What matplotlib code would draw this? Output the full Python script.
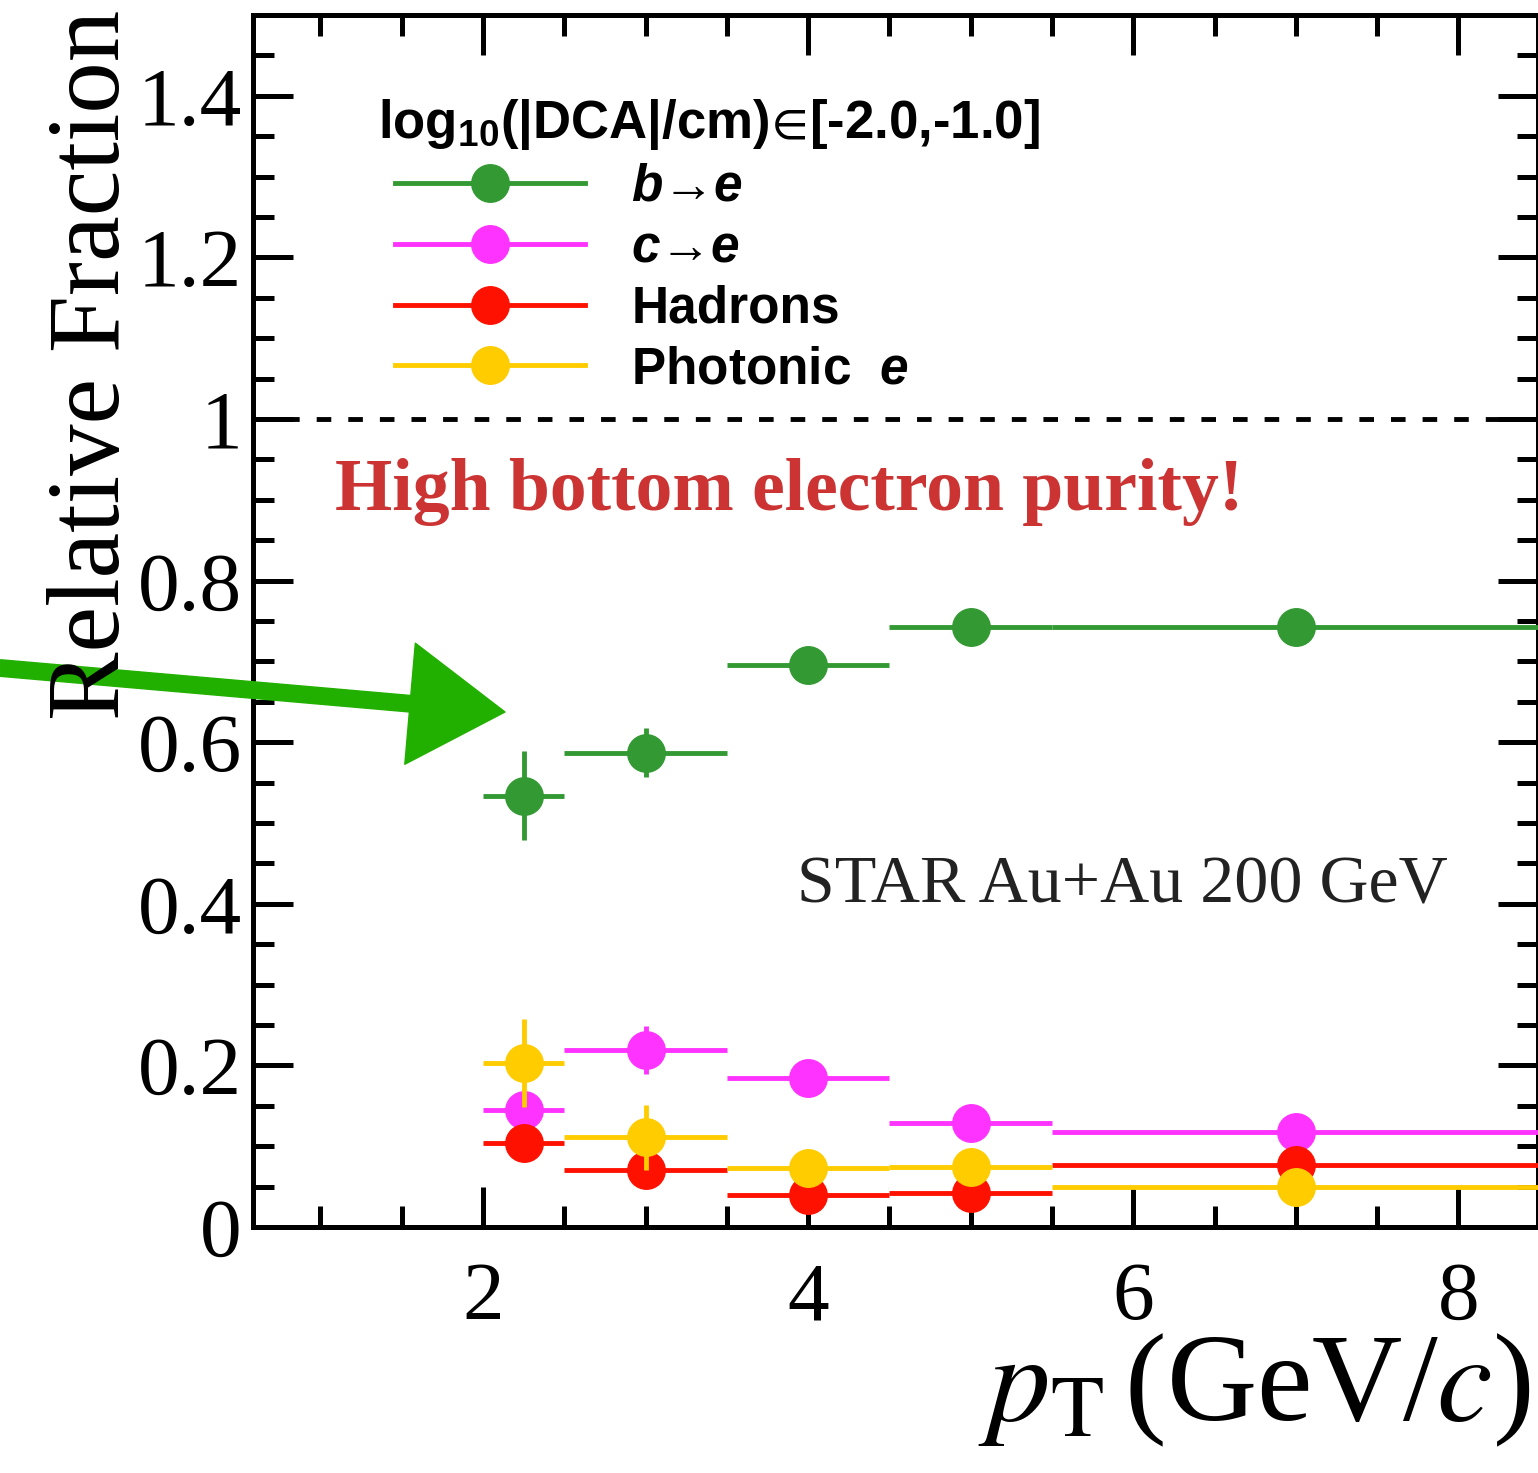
import matplotlib
matplotlib.use('Agg')
import matplotlib.pyplot as plt
from matplotlib.lines import Line2D
from matplotlib.font_manager import FontProperties
from matplotlib.ticker import MultipleLocator, FormatStrFormatter

# pT bins
pt_centers = [2.25, 3.0, 4.0, 5.0, 7.0]
pt_halfwidth = [0.25, 0.5, 0.5, 0.5, 1.5]

# relative fractions
b_to_e = [0.534, 0.587, 0.695, 0.743, 0.743]
b_to_e_err = [0.055, 0.03, 0.01, 0.01, 0.01]
c_to_e = [0.145, 0.219, 0.185, 0.129, 0.117]
c_to_e_err = [0.01, 0.03, 0.01, 0.01, 0.02]
hadrons = [0.104, 0.070, 0.040, 0.042, 0.077]
hadrons_err = [0.01, 0.01, 0.01, 0.01, 0.01]
photonic = [0.203, 0.111, 0.073, 0.074, 0.049]
photonic_err = [0.055, 0.04, 0.01, 0.01, 0.01]

series = [
    ('$b$→$e$', b_to_e, b_to_e_err, '#339933'),
    ('$c$→$e$', c_to_e, c_to_e_err, '#ff33ff'),
    ('Hadrons', hadrons, hadrons_err, '#ff1100'),
    ('Photonic  $e$', photonic, photonic_err, '#ffcc00'),
]
draw_order = [0, 1, 3, 2]
legend_title = r'log$_{10}$(|DCA|/cm)$\!{\in}\!$[-2.0,-1.0]'

plt.rcParams['mathtext.fontset'] = 'custom'
plt.rcParams['mathtext.rm'] = 'Liberation Sans:bold'
plt.rcParams['mathtext.it'] = 'Liberation Sans:italic:bold'
plt.rcParams['mathtext.bf'] = 'Liberation Sans:bold'
plt.rcParams['mathtext.fallback'] = 'stixsans'

fig = plt.figure(figsize=(15.38, 14.73), dpi=100)
ax = fig.add_axes([253 / 1538, 1 - 1227 / 1473, 1 - 253 / 1538, (1227 - 15) / 1473])

for i in draw_order:
    label, vals, errs, col = series[i]
    ax.errorbar(pt_centers, vals, xerr=pt_halfwidth, yerr=errs, fmt='o',
                color=col, ms=27, elinewidth=3.5, capsize=0, zorder=3 + i)

ax.axhline(1.0, color='black', lw=3.5, ls=(0, (3, 3.5)), zorder=2)

ax.set_xlim(0.585, 8.49)
ax.set_ylim(0, 1.5)
ax.xaxis.set_major_locator(MultipleLocator(2))
ax.xaxis.set_minor_locator(MultipleLocator(0.5))
ax.yaxis.set_major_locator(MultipleLocator(0.2))
ax.yaxis.set_minor_locator(MultipleLocator(0.05))
ax.yaxis.set_major_formatter(FormatStrFormatter('%g'))

ax.tick_params(which='both', direction='in', top=True, right=True, width=3.6)
ax.tick_params(which='major', length=29)
ax.tick_params(which='minor', length=15)
ax.tick_params(axis='x', pad=25)
ax.tick_params(axis='y', pad=8)
for lab in ax.get_xticklabels() + ax.get_yticklabels():
    lab.set_fontfamily('Liberation Serif')
    lab.set_fontsize(60)
for sp in ax.spines.values():
    sp.set_linewidth(3.6)

fig.text(0.061, 1 - 365 / 1473, 'Relative Fraction', rotation=90, ha='center', va='center',
         family='Liberation Serif', fontsize=74)
fig.text(1530 / 1538, 1 - 1420 / 1473, r'$p_{\mathrm{T}}\,$(GeV/$c$)', ha='right', va='baseline',
         family='Liberation Serif', fontsize=90, math_fontfamily='stix')

# legend header
ax.text((378 - 253) / 1285, (1227 - 138) / 1212, legend_title, transform=ax.transAxes,
        family='Liberation Sans', weight='bold', fontsize=38, va='baseline', math_fontfamily='custom')

handles = [Line2D([], [], color=s[3], lw=3.5, marker='o', ms=27) for s in series]
leg_font = FontProperties(family=['Liberation Sans', 'DejaVu Sans'], weight='bold', size=37,
                          math_fontfamily='custom')
leg = ax.legend(handles, [s[0] for s in series], loc='upper left', bbox_to_anchor=(0.1105, 0.878),
                frameon=False, prop=leg_font, handlelength=3.7,
                handletextpad=0.9, labelspacing=0.23, borderpad=0, borderaxespad=0)

ax.text((335 - 253) / 1285, (1227 - 510) / 1212, 'High bottom electron purity!', transform=ax.transAxes,
        family='Liberation Serif', weight='bold', fontsize=53, color='#cc3333', va='baseline')
ax.text((797 - 253) / 1285, (1227 - 903) / 1212, 'STAR Au+Au 200 GeV', transform=ax.transAxes,
        family='Liberation Serif', fontsize=49, color='#222222', va='baseline')

# hand-drawn style green arrow pointing at the first b->e point
arrow_tail = (0.0, 1 - 668 / 1473)
arrow_tip = (505 / 1538, 1 - 712 / 1473)
ax.annotate('', xy=arrow_tip, xycoords='figure fraction', xytext=arrow_tail, textcoords='figure fraction',
            arrowprops=dict(arrowstyle='simple,head_length=0.98,head_width=1.25,tail_width=0.17',
                            color='#22b000', mutation_scale=70, shrinkA=0, shrinkB=0),
            annotation_clip=False, zorder=10)

fig.savefig('out.png', dpi=100)
